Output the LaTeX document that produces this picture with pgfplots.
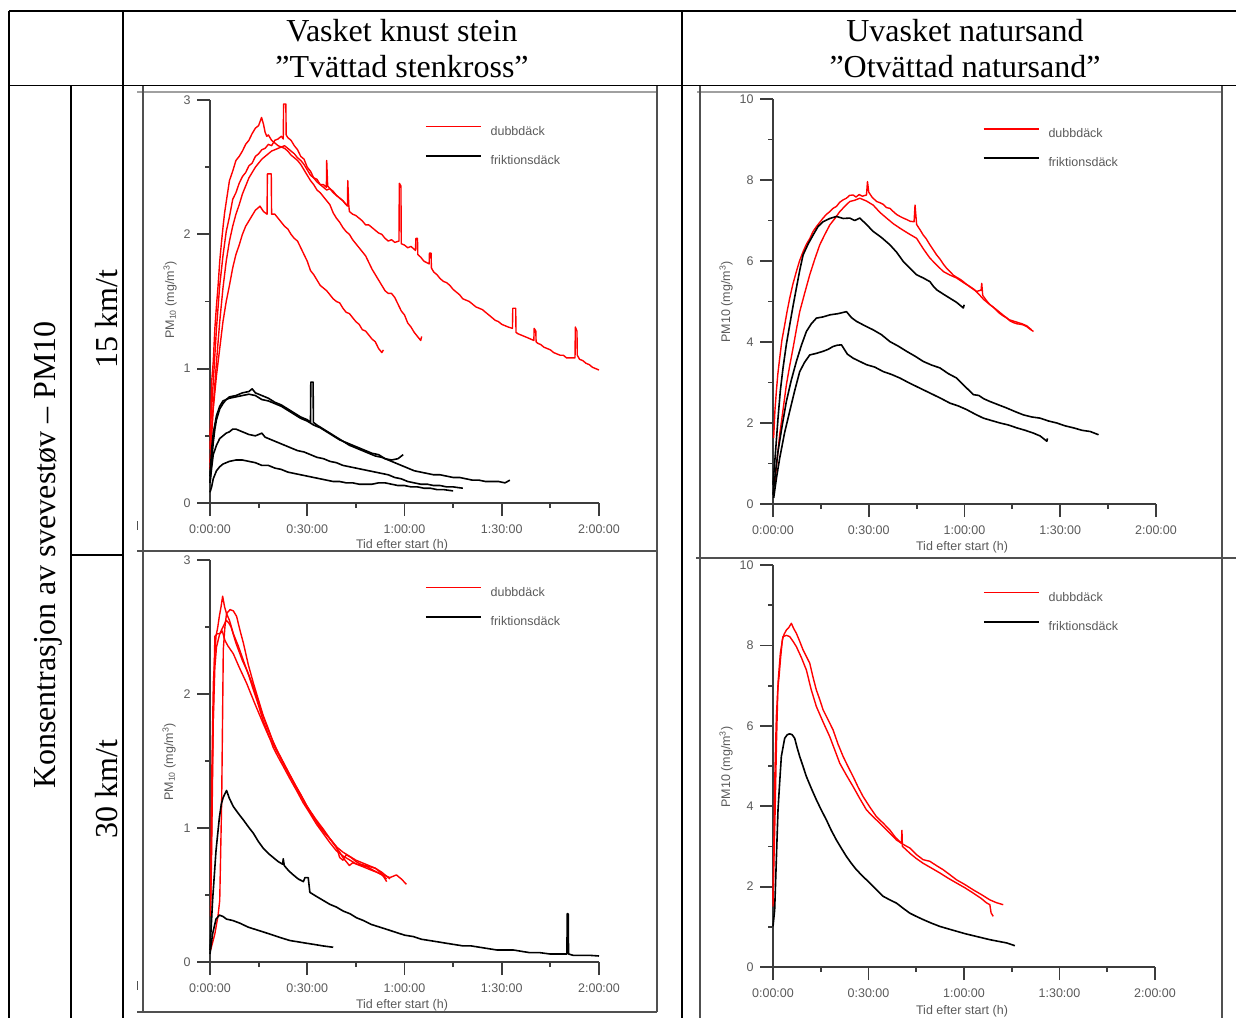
\documentclass[border=0pt]{standalone}
\usepackage{pgfplots}
\pgfplotsset{compat=1.18}
\usepackage{fontspec}
\setmainfont{Liberation Serif}
\newfontfamily\plotfont{Liberation Sans}
\definecolor{axgray}{HTML}{3C3C3C}
\definecolor{txtgray}{HTML}{5A5A5A}
\definecolor{framedark}{HTML}{505050}
\definecolor{framelight}{HTML}{A0A0A0}
\definecolor{pmred}{HTML}{FF0000}
\newcommand{\pf}{\plotfont\fontsize{12.5pt}{14pt}\selectfont}
\newcommand{\hf}{\fontsize{32pt}{37pt}\selectfont}
\pgfplotsset{
  pmaxis/.style={
    scale only axis, anchor=south west,
    axis x line=bottom, axis y line=left,
    axis line style={-, draw=axgray, line width=1.8pt},
    tick align=outside,
    major tick length=13pt, minor tick length=5pt,
    every major tick/.append style={draw=axgray, line width=1.8pt},
    every minor tick/.append style={draw=axgray, line width=1.8pt},
    xmin=0, xmax=120, ymin=0,
    xtick={0,30,60,90,120},
    xticklabels={0:00:00,0:30:00,1:00:00,1:30:00,2:00:00},
    minor xtick={15,45,75,105},
    tick label style={font=\pf, text=txtgray},
    xticklabel style={yshift=-5pt},
    yticklabel style={xshift=-3pt},
    /pgf/number format/assume math mode=true,
    clip=false,
    legend style={draw=none, fill=none, anchor=north west, inner sep=0pt, outer sep=0pt,
      row sep=20pt, column sep=9pt, font=\pf, text=txtgray,
      nodes={inner sep=0pt, text height=9pt, text depth=0pt}},
    legend cell align=left,
    legend image code/.code={\draw[##1] (0pt,4pt) -- (55pt,4pt);},
  },
  red line/.style={draw=pmred, line width=1.4pt, line join=round},
  blk line/.style={draw=black, line width=1.6pt, line join=round},
}
\begin{document}
\begin{tikzpicture}
\useasboundingbox (0pt,0pt) rectangle (1236pt,-1017pt);
% image frames
\begin{scope}[x=1pt,y=-1pt]
  \draw[framelight, line width=2pt] (137,92) -- (657,92);
  \draw[framelight, line width=2pt] (697,92) -- (1222,92);
  \draw[framedark, line width=2pt] (143,86) -- (143,1012);
  \draw[framedark, line width=2pt] (657,86) -- (657,1012);
  \draw[framedark, line width=1.5pt] (137,551) -- (657,551);
  \draw[framedark, line width=1.5pt] (137,1012) -- (657,1012);
  \draw[framedark, line width=2pt] (700,86) -- (700,1020);
  \draw[framedark, line width=2pt] (1222,86) -- (1222,1020);
  \draw[framedark, line width=1.5pt] (696,558) -- (1240,558);
  \draw[framedark, line width=1pt] (137,521) -- (137,530);
  \draw[framedark, line width=1pt] (137,981) -- (137,990);
\end{scope}

% ---------- Plot 1: top left ----------
\begin{axis}[pmaxis, at={(210pt,-503pt)}, width=389pt, height=403pt, ymax=3,
  ytick={0,1,2,3}, minor ytick={0.5,1.5,2.5},
  legend style={at={(0.5527,0.9355)}}]
\addlegendimage{red line}\addlegendentry{dubbdäck}
\addlegendimage{blk line}\addlegendentry{friktionsdäck}
\addplot[red line] coordinates {(0,0.5) (1,0.9) (2,1.3) (3,1.62) (4,1.84) (5,2.02) (6,2.13) (7,2.26) (8,2.31) (9,2.38) (10,2.43) (11,2.46) (12,2.51) (13,2.53) (14,2.58) (15,2.60) (16,2.63) (17,2.64) (18,2.67) (19,2.66) (20,2.70) (21,2.71) (22,2.73) (22.6,2.71) (22.7,2.97) (23.4,2.97) (23.5,2.74) (24,2.72) (25,2.70) (26,2.66) (27,2.63) (28,2.58) (29,2.56) (30,2.50) (31,2.47) (32,2.42) (33,2.41) (34,2.37) (35,2.37) (35.9,2.35) (36.0,2.55) (36.3,2.36) (37,2.34) (38,2.32) (39,2.29) (40,2.27) (41,2.25) (42.4,2.21) (42.5,2.40) (42.8,2.22) (43,2.17) (44,2.15) (45,2.14) (46,2.12) (47,2.10) (48,2.07) (49,2.07) (50,2.05) (51,2.03) (52,2.01) (53,2.00) (54,1.97) (55,1.95) (56,1.96) (57,1.94) (58.3,1.95) (58.4,2.38) (58.9,2.36) (59,1.93) (60,1.92) (61,1.90) (62,1.91) (63.4,1.88) (63.5,1.97) (64,1.97) (64.1,1.85) (65,1.83) (66,1.80) (67.6,1.78) (67.7,1.86) (68.2,1.86) (68.3,1.75) (69,1.72) (70,1.70) (71,1.67) (72,1.65) (73,1.64) (74,1.62) (75,1.59) (76,1.57) (77,1.55) (78,1.52) (79,1.51) (80,1.50) (81,1.48) (82,1.46) (83,1.45) (84,1.44) (85,1.42) (86,1.40) (87,1.38) (88,1.36) (89,1.35) (90,1.33) (91,1.32) (92,1.31) (93.3,1.30) (93.4,1.45) (94.3,1.45) (94.4,1.27) (95,1.26) (96,1.25) (97,1.24) (98,1.23) (99.9,1.21) (100.0,1.30) (100.5,1.28) (100.6,1.20) (101,1.19) (102,1.18) (103,1.16) (104,1.15) (105,1.14) (106,1.12) (107,1.11) (108,1.10) (109,1.10) (110,1.08) (111,1.08) (112.6,1.08) (112.7,1.31) (113.2,1.28) (113.3,1.10) (114,1.07) (115,1.06) (116,1.04) (117,1.03) (118,1.01) (119,1.00) (120,0.99)};
\addplot[red line] coordinates {(0,0.4) (0.5,0.9) (1,1.05) (1.5,1.3) (2,1.47) (2.5,1.62) (3,1.8) (3.5,1.93) (4,2.05) (4.5,2.16) (5,2.24) (6,2.40) (7,2.47) (8,2.55) (9,2.58) (10,2.62) (11,2.67) (12,2.70) (13,2.75) (14,2.79) (15,2.81) (15.9,2.87) (16.5,2.82) (17,2.76) (17.5,2.73) (18,2.74) (19,2.70) (20,2.68) (21,2.66) (22,2.65) (23,2.64) (24,2.62) (25,2.59) (26,2.57) (27,2.55) (28,2.52) (29,2.48) (30,2.44) (31,2.40) (32,2.37) (33,2.33) (34,2.31) (35,2.28) (36,2.25) (37,2.22) (38,2.16) (39,2.12) (40,2.09) (41,2.05) (42,2.02) (43,2.00) (44,1.96) (45,1.93) (46,1.90) (47,1.87) (48,1.84) (49,1.79) (50,1.74) (51,1.70) (52,1.66) (53,1.62) (54,1.58) (55,1.56) (56,1.56) (57,1.53) (58,1.48) (59,1.43) (60,1.40) (61,1.34) (62,1.31) (63,1.27) (64,1.24) (65,1.21) (65.3,1.24)};
\addplot[red line] coordinates {(0,0.3) (0.5,0.55) (1,0.72) (2,1.05) (3,1.35) (4,1.6) (5,1.8) (6,1.95) (7,2.06) (8,2.15) (9,2.22) (10,2.30) (11,2.36) (12,2.42) (13,2.46) (14,2.50) (15,2.53) (16,2.56) (17,2.58) (18,2.60) (19,2.62) (20,2.63) (21,2.64) (22,2.65) (23,2.66) (24,2.64) (25,2.62) (26,2.60) (27,2.57) (28,2.55) (29,2.52) (30,2.48) (31,2.44) (32,2.42) (33,2.39) (34,2.37) (35,2.35) (36,2.33) (37,2.34) (38,2.31) (39,2.29) (40,2.27) (41,2.25) (42,2.22)};
\addplot[red line] coordinates {(0,0.25) (0.5,0.5) (1,0.7) (2,0.95) (3,1.15) (4,1.35) (5,1.5) (6,1.62) (7,1.75) (8,1.85) (9,1.92) (10,2.0) (11,2.06) (12,2.1) (13,2.14) (14,2.18) (15,2.20) (15.4,2.21) (16.5,2.17) (17.6,2.15) (17.7,2.45) (18.9,2.45) (19.0,2.15) (20,2.15) (21,2.12) (22,2.09) (23,2.06) (24,2.04) (25,2.0) (26,1.97) (27,1.95) (28,1.9) (29,1.85) (30,1.8) (31,1.73) (32,1.70) (33,1.66) (34,1.62) (35,1.60) (36,1.58) (37,1.55) (38,1.52) (39,1.50) (40,1.49) (41,1.45) (42,1.42) (43,1.41) (44,1.38) (45,1.35) (46,1.33) (47,1.29) (48,1.28) (49,1.25) (50,1.22) (51,1.2) (52,1.15) (53,1.12) (53.5,1.14)};
\addplot[blk line] coordinates {(0,0.15) (0.5,0.31) (1,0.45) (1.5,0.55) (2,0.62) (3,0.70) (4,0.74) (5,0.77) (6,0.79) (8,0.80) (10,0.82) (12,0.83) (13,0.85) (14,0.82) (16,0.80) (18,0.78) (20,0.75) (22,0.73) (24,0.70) (26,0.67) (28,0.64) (30,0.62) (31.0,0.60) (31.1,0.90) (31.8,0.90) (31.9,0.60) (33,0.58) (35,0.55) (37,0.52) (39,0.49) (41,0.46) (43,0.43) (45,0.41) (47,0.39) (49,0.37) (51,0.35) (53,0.34) (55,0.32) (57,0.30) (59,0.28) (61,0.26) (63,0.24) (65,0.23) (67,0.22) (69,0.21) (71,0.21) (73,0.20) (75,0.19) (77,0.19) (79,0.18) (81,0.17) (83,0.17) (85,0.16) (87,0.16) (89,0.16) (91,0.15) (92.5,0.17)};
\addplot[blk line] coordinates {(0,0.2) (0.5,0.4) (1,0.52) (2,0.65) (3,0.72) (4,0.76) (6,0.78) (8,0.79) (10,0.80) (12,0.81) (14,0.80) (16,0.77) (18,0.76) (20,0.74) (22,0.72) (24,0.69) (26,0.66) (28,0.63) (30,0.61) (32,0.58) (34,0.56) (36,0.53) (38,0.50) (40,0.47) (42,0.45) (44,0.43) (46,0.41) (48,0.39) (50,0.37) (52,0.36) (54,0.33) (56,0.32) (58,0.33) (59.6,0.36)};
\addplot[blk line] coordinates {(0,0.15) (0.5,0.26) (1,0.36) (2,0.43) (3,0.48) (4,0.50) (5,0.52) (6,0.53) (7,0.55) (8,0.55) (9,0.54) (10,0.53) (12,0.51) (14,0.50) (16,0.52) (17,0.49) (19,0.47) (21,0.45) (23,0.43) (25,0.41) (27,0.39) (29,0.38) (31,0.36) (33,0.34) (35,0.33) (37,0.31) (39,0.30) (41,0.28) (43,0.27) (45,0.26) (47,0.25) (49,0.24) (51,0.23) (53,0.22) (55,0.21) (57,0.19) (59,0.18) (61,0.16) (63,0.15) (65,0.14) (67,0.14) (69,0.13) (71,0.13) (73,0.12) (75,0.12) (78,0.11)};
\addplot[blk line] coordinates {(0,0.08) (0.5,0.12) (1,0.18) (2,0.24) (3,0.27) (4,0.29) (5,0.30) (6,0.31) (8,0.32) (10,0.32) (12,0.31) (14,0.30) (16,0.28) (18,0.28) (20,0.26) (22,0.25) (24,0.23) (26,0.22) (28,0.21) (30,0.20) (32,0.19) (34,0.18) (36,0.17) (38,0.16) (40,0.16) (42,0.15) (44,0.15) (46,0.14) (48,0.14) (50,0.14) (52,0.15) (54,0.15) (56,0.14) (58,0.13) (60,0.13) (62,0.12) (64,0.12) (66,0.11) (68,0.11) (70,0.10) (72,0.10) (75,0.09)};
\end{axis}

% ---------- Plot 2: top right ----------
\begin{axis}[pmaxis, at={(773pt,-504pt)}, width=383pt, height=405pt, ymax=10,
  ytick={0,2,4,6,8,10}, minor ytick={1,3,5,7,9},
  legend style={at={(0.548,0.928)}}]
\addlegendimage{red line}\addlegendentry{dubbdäck}
\addlegendimage{blk line}\addlegendentry{friktionsdäck}
\addplot[red line] coordinates {(0.2,1.63) (0.6,2.3) (1.05,2.78) (1.5,3.2) (2.09,3.6) (2.8,4.05) (3.66,4.42) (4.4,4.75) (5.23,5.08) (6.2,5.42) (7.32,5.74) (8.3,6.0) (9.42,6.23) (10.5,6.42) (11.5,6.55) (12.55,6.73) (13.6,6.85) (14.6,6.95) (15.69,7.06) (16.7,7.15) (17.8,7.22) (18.83,7.30) (19.9,7.35) (20.9,7.45) (21.97,7.51) (23,7.55) (24,7.62) (25.11,7.63) (26,7.58) (27,7.64) (28,7.60) (29.29,7.63) (29.6,7.96) (30.0,7.70) (31,7.58) (32.43,7.47) (33.5,7.44) (34.5,7.40) (35.5,7.32) (36.62,7.30) (37.7,7.22) (38.7,7.15) (39.8,7.10) (40.8,7.06) (42,7.02) (43,6.98) (44.2,6.97) (44.5,7.38) (45.0,6.90) (46,6.78) (47.08,6.64) (48,6.55) (49,6.42) (50,6.30) (51.26,6.15) (52.3,6.05) (53.4,5.92) (54.4,5.82) (55.45,5.74) (56.5,5.65) (57.5,5.60) (58.6,5.55) (59.63,5.49) (60.7,5.42) (61.7,5.36) (62.8,5.30) (63.82,5.25) (65.2,5.28) (65.4,5.45) (65.7,5.15) (66.9,5.02) (68,4.92) (69,4.86) (70,4.78) (71.1,4.70) (72.2,4.64) (73.23,4.59) (74.3,4.52) (75.3,4.48) (76.4,4.45) (77.4,4.44) (78.47,4.42) (79.5,4.38) (80.5,4.32) (81.6,4.26)};
\addplot[red line] coordinates {(0.52,0.48) (1.3,1.1) (2.09,1.71) (3.1,2.3) (4.18,2.94) (5.2,3.4) (6.28,3.85) (7.3,4.3) (8.37,4.75) (9.9,5.2) (11.51,5.66) (13.1,6.05) (14.65,6.4) (16.2,6.65) (17.79,6.89) (19.4,7.05) (20.92,7.22) (22.5,7.35) (24.06,7.47) (25.6,7.50) (27.2,7.55) (29.3,7.48) (31.39,7.38) (33.5,7.20) (35.57,7.06) (37.7,6.92) (39.76,6.81) (42.4,6.68) (44.99,6.56) (47.1,6.30) (49.17,6.07) (51.3,5.90) (53.36,5.74) (55.5,5.65) (57.54,5.58) (60,5.45) (61.5,5.38) (63,5.30) (64.5,5.18) (66,5.05) (68,4.92) (70,4.80) (72,4.67) (74,4.55) (76,4.50) (78,4.45) (79.5,4.40) (81,4.30)};
\addplot[blk line] coordinates {(0,0.48) (0.8,1.3) (1.57,2.12) (2.3,2.8) (3.14,3.36) (4.2,3.95) (5.23,4.42) (6.3,4.9) (7.32,5.33) (8.4,5.78) (9.42,6.15) (11,6.42) (12.55,6.64) (14.1,6.85) (15.69,6.97) (17.8,7.05) (19.88,7.10) (22,7.05) (24.06,7.06) (25.6,7.00) (27.2,7.06) (29.3,6.90) (31.39,6.73) (34,6.58) (36.62,6.40) (38.7,6.22) (40.8,5.99) (42.9,5.82) (44.99,5.66) (47.1,5.58) (49.17,5.49) (50.2,5.38) (51.26,5.29) (53.4,5.18) (55.45,5.08) (57.5,4.98) (59.63,4.84) (59.9,4.92)};
\addplot[blk line] coordinates {(0,0.23) (0.8,0.8) (1.57,1.3) (2.9,1.95) (4.18,2.53) (5.7,3.05) (7.32,3.52) (8.9,3.92) (10.46,4.26) (12,4.45) (13.6,4.59) (15.7,4.62) (17.79,4.67) (20.4,4.70) (23.02,4.75) (24.6,4.60) (26.16,4.51) (28.8,4.40) (31.39,4.30) (34,4.18) (36.62,4.01) (39.2,3.90) (41.85,3.77) (44.5,3.65) (47.08,3.52) (49.7,3.43) (52.31,3.36) (54.9,3.22) (57.54,3.11) (60.2,2.90) (62.77,2.70) (64.5,2.68) (66,2.60) (68,2.53) (70.6,2.45) (73.23,2.37) (75.9,2.28) (78.47,2.20) (81,2.15) (83.7,2.12) (86.3,2.05) (88.93,2.00) (91.5,1.93) (94.16,1.88) (96.8,1.82) (99.39,1.79) (102,1.71)};
\addplot[blk line] coordinates {(0.21,0.15) (1.1,0.65) (2.09,1.13) (3.6,1.75) (5.23,2.29) (6.8,2.80) (8.37,3.27) (9.9,3.50) (11.51,3.68) (13.6,3.72) (15.69,3.77) (17.3,3.82) (18.83,3.89) (20.1,3.92) (21.45,3.93) (23.3,3.70) (25.11,3.60) (27.2,3.52) (29.29,3.44) (31.9,3.38) (34.52,3.27) (37.1,3.20) (39.76,3.11) (42.4,3.00) (44.99,2.90) (47.6,2.80) (50.22,2.70) (52.8,2.60) (55.45,2.49) (58.1,2.42) (60.68,2.33) (63.3,2.22) (65.91,2.12) (68.5,2.06) (71.14,2.00) (73.8,1.95) (76.37,1.88) (79,1.82) (81.6,1.75) (83.7,1.68) (85.79,1.55) (86,1.62)};
\end{axis}

% ---------- Plot 3: bottom left ----------
\begin{axis}[pmaxis, at={(210pt,-962pt)}, width=389pt, height=402pt, ymax=3,
  ytick={0,1,2,3}, minor ytick={0.5,1.5,2.5},
  legend style={at={(0.5527,0.933)}}]
\addlegendimage{red line}\addlegendentry{dubbdäck}
\addlegendimage{blk line}\addlegendentry{friktionsdäck}
\addplot[red line] coordinates {(0.2,0.34) (0.5,1.33) (1.03,2.08) (1.5,2.30) (1.85,2.43) (2.4,2.50) (2.88,2.58) (3.4,2.65) (3.9,2.73) (4.5,2.65) (5.1,2.60) (6,2.55) (7.2,2.45) (8.7,2.36) (10.3,2.25) (11.8,2.15) (13.4,2.03) (14.9,1.92) (16.4,1.80) (18,1.70) (19.5,1.60) (21,1.53) (22.6,1.46) (24.6,1.37) (26.7,1.28) (28.7,1.19) (30.8,1.11) (32.8,1.03) (34.9,0.96) (37,0.89) (39.0,0.83) (41.1,0.79) (43.2,0.76) (45.2,0.73) (47.3,0.71) (49.3,0.69) (51.4,0.67) (53.4,0.65) (55.5,0.63) (57.5,0.65) (59,0.62) (60.6,0.58)};
\addplot[red line] coordinates {(0.2,0.09) (1.5,0.21) (2.5,0.35) (3.0,0.46) (3.6,1.20) (4.1,2.33) (4.6,2.50) (5.1,2.60) (6.2,2.63) (7.2,2.62) (8.2,2.58) (9.2,2.48) (10.3,2.38) (11.8,2.22) (13.4,2.08) (14.9,1.96) (16.4,1.84) (18,1.74) (19.5,1.64) (21,1.56) (22.6,1.48) (24.6,1.39) (26.7,1.30) (28.7,1.21) (30.8,1.12) (32.8,1.05) (34.9,0.98) (37,0.92) (39,0.86) (41,0.82) (43,0.79) (45,0.76) (47,0.74) (49,0.72) (51,0.70) (53,0.66) (54.5,0.60)};
\addplot[red line] coordinates {(0.2,0.4) (0.5,0.83) (1.0,1.8) (1.5,2.43) (2.2,2.45) (3.1,2.45) (3.8,2.47) (4.6,2.40) (5.5,2.36) (7.2,2.30) (9,2.20) (11.3,2.08) (13.8,1.93) (16.4,1.78) (18.2,1.68) (20,1.60) (22.5,1.49) (25,1.38) (27.5,1.27) (30,1.16) (32.5,1.07) (35,0.99) (37,0.92) (39,0.86) (40,0.78) (41,0.76) (42,0.80) (43.5,0.78) (45,0.75) (46.5,0.73) (48,0.72) (49.5,0.71) (51,0.70) (53,0.67) (55.5,0.62)};
\addplot[red line] coordinates {(0.3,0.6) (0.6,1.2) (1,1.8) (1.5,2.2) (2,2.35) (3,2.45) (4,2.50) (5,2.55) (5.8,2.53) (6.5,2.50) (8,2.38) (10,2.25) (11.5,2.17) (13,2.08) (14.5,1.97) (16,1.86) (17.5,1.76) (19,1.67) (20.5,1.59) (22,1.52) (23.5,1.45) (25,1.38) (26.5,1.31) (28,1.25) (29.5,1.18) (31,1.12) (32.5,1.06) (34,1.00) (35.5,0.96) (37,0.92) (38.5,0.87) (40,0.82) (41,0.78) (42,0.75) (43,0.72) (44,0.74) (45.5,0.73) (47,0.72) (48.5,0.71) (50,0.69) (51.5,0.67) (53,0.65) (54.5,0.62)};
\addplot[blk line] coordinates {(0,0.09) (0.8,0.46) (1.85,0.83) (2.9,1.08) (3.5,1.18) (4.1,1.23) (5.1,1.28) (6,1.22) (7.2,1.16) (8.7,1.11) (10.3,1.06) (11.8,1.01) (13.4,0.96) (14.9,0.90) (16.4,0.85) (18,0.81) (19.5,0.78) (21,0.75) (22.4,0.73) (22.6,0.77) (22.9,0.72) (24.3,0.68) (25.7,0.65) (27.2,0.62) (28.8,0.60) (29.3,0.63) (30.3,0.63) (30.8,0.52) (32.8,0.49) (34.9,0.46) (37,0.43) (39,0.41) (41.1,0.38) (43.2,0.36) (45.2,0.33) (47.3,0.31) (49.8,0.28) (52.4,0.26) (55,0.24) (57.5,0.22) (60.1,0.20) (62.7,0.19) (65.2,0.17) (67.8,0.16) (70.4,0.15) (72.9,0.14) (75.5,0.13) (78.1,0.12) (80.6,0.12) (83.2,0.11) (85.8,0.10) (88.4,0.09) (91,0.09) (93.5,0.09) (96,0.08) (98.6,0.07) (101.7,0.07) (104.8,0.06) (107.5,0.06) (110.1,0.06) (110.2,0.36) (110.5,0.36) (110.6,0.06) (112,0.05) (114,0.05) (117,0.05) (120,0.045)};
\addplot[blk line] coordinates {(0,0.06) (0.8,0.21) (1.85,0.32) (2.9,0.35) (4,0.34) (5.1,0.32) (7,0.31) (9.2,0.29) (11.8,0.26) (14.4,0.24) (17,0.22) (19.5,0.20) (22,0.18) (24.7,0.16) (27.3,0.15) (29.8,0.14) (32.4,0.13) (34.9,0.12) (38,0.11)};
\end{axis}

% ---------- Plot 4: bottom right ----------
\begin{axis}[pmaxis, at={(773pt,-967pt)}, width=382pt, height=402pt, ymax=10,
  ytick={0,2,4,6,8,10}, minor ytick={1,3,5,7,9},
  legend style={at={(0.5497,0.933)}}]
\addlegendimage{red line}\addlegendentry{dubbdäck}
\addlegendimage{blk line}\addlegendentry{friktionsdäck}
\addplot[red line] coordinates {(0,1.5) (0.52,4.57) (1.05,6.23) (1.5,6.9) (1.89,7.22) (2.4,7.7) (2.93,8.14) (3.5,8.28) (4.19,8.38) (5,8.45) (5.76,8.55) (6.5,8.42) (7.34,8.30) (8.4,8.10) (9.43,7.89) (10.5,7.72) (11.53,7.56) (12.6,7.20) (13.62,6.89) (14.7,6.65) (15.72,6.40) (17.3,6.15) (18.86,5.90) (20.4,5.55) (22.01,5.24) (23.6,4.98) (25.15,4.74) (26.7,4.48) (28.3,4.24) (30.4,3.98) (32.49,3.74) (34.6,3.58) (36.68,3.41) (38.5,3.22) (40.35,3.08) (40.5,3.40) (40.66,3.00) (41.8,2.92) (42.97,2.83) (45,2.70) (47.16,2.58) (49.8,2.46) (52.4,2.34) (55,2.21) (57.64,2.09) (60.3,1.97) (62.88,1.84) (65.5,1.70) (67,1.60) (68.12,1.55) (68.5,1.35) (69.17,1.26)};
\addplot[red line] coordinates {(0,1.7) (0.63,3.74) (1.1,5.6) (1.57,7.06) (2.3,7.8) (3.14,8.22) (4.2,8.25) (5.24,8.22) (6.3,8.10) (7.34,7.97) (8.9,7.70) (10.48,7.39) (12,6.90) (13.62,6.48) (15.7,6.10) (17.82,5.73) (19.4,5.40) (20.96,5.07) (23,4.78) (25.15,4.49) (27.2,4.20) (29.34,3.91) (31.4,3.74) (33.54,3.58) (36.2,3.37) (38.78,3.16) (40.9,3.05) (42.97,2.96) (45,2.80) (47.16,2.67) (49.26,2.63) (51.4,2.52) (53.45,2.42) (55.5,2.30) (57.64,2.17) (60.3,2.05) (62.88,1.92) (65.5,1.80) (68.12,1.67) (70.2,1.60) (72.31,1.55)};
\addplot[blk line] coordinates {(0,1.01) (0.52,1.42) (1.05,2.67) (1.57,3.91) (2.1,4.6) (2.62,5.24) (3.67,5.69) (4.5,5.78) (5.24,5.80) (6,5.78) (6.81,5.69) (7.6,5.45) (8.38,5.24) (9.4,5.00) (10.48,4.74) (12,4.45) (13.62,4.16) (15.2,3.90) (16.77,3.66) (18.3,3.40) (19.91,3.16) (21.5,2.95) (23.06,2.75) (24.6,2.58) (26.2,2.42) (28.3,2.25) (30.39,2.09) (32.5,1.92) (34.58,1.76) (36.7,1.67) (38.78,1.59) (40.9,1.46) (42.97,1.34) (45,1.26) (47.16,1.18) (49.8,1.09) (52.4,1.01) (55,0.95) (57.64,0.89) (60.3,0.83) (62.88,0.78) (65.5,0.73) (68.12,0.68) (70.7,0.64) (73.36,0.60) (75.98,0.53)};
\end{axis}

% table lines and texts
\begin{scope}[x=1pt,y=-1pt]
  \draw[black, line width=1.6pt] (9,11) -- (1240,11);
  \draw[black, line width=1.6pt] (9,85.5) -- (1240,85.5);
  \draw[black, line width=1.6pt] (9,11) -- (9,1020);
  \draw[black, line width=1.6pt] (123,11) -- (123,1020);
  \draw[black, line width=1.6pt] (682,11) -- (682,1020);
  \draw[black, line width=1.6pt] (71,85.5) -- (71,1020);
  \draw[black, line width=1.6pt] (71,555) -- (123,555);
  % headers
  \node[anchor=base, inner sep=0pt] at (402,41) {\hf Vasket knust stein};
  \node[anchor=base, inner sep=0pt] at (402,77) {\hf ”Tvättad stenkross”};
  \node[anchor=base, inner sep=0pt] at (965,41) {\hf Uvasket natursand};
  \node[anchor=base, inner sep=0pt] at (965,77) {\hf ”Otvättad natursand”};
  \node[anchor=base, inner sep=0pt, rotate=90] at (55,555) {\hf Konsentrasjon av svevestøv – PM10};
  \node[anchor=base, inner sep=0pt, rotate=90] at (117,319) {\hf 15 km/t};
  \node[anchor=base, inner sep=0pt, rotate=90] at (117,789) {\hf 30 km/t};
  % axis labels
  \node[anchor=base, inner sep=0pt, text=txtgray] at (402,548) {\pf Tid efter start (h)};
  \node[anchor=base, inner sep=0pt, text=txtgray] at (962,550) {\pf Tid efter start (h)};
  \node[anchor=base, inner sep=0pt, text=txtgray] at (402,1008) {\pf Tid efter start (h)};
  \node[anchor=base, inner sep=0pt, text=txtgray] at (962,1014) {\pf Tid efter start (h)};
  \node[anchor=base, inner sep=0pt, text=txtgray, rotate=90] at (174,300) {\pf PM\textsubscript{10} (mg/m\textsuperscript{3})};
  \node[anchor=base, inner sep=0pt, text=txtgray, rotate=90] at (730,302) {\pf PM10 (mg/m\textsuperscript{3})};
  \node[anchor=base, inner sep=0pt, text=txtgray, rotate=90] at (173,762) {\pf PM\textsubscript{10} (mg/m\textsuperscript{3})};
  \node[anchor=base, inner sep=0pt, text=txtgray, rotate=90] at (730,767) {\pf PM10 (mg/m\textsuperscript{3})};
\end{scope}
\end{tikzpicture}
\end{document}
